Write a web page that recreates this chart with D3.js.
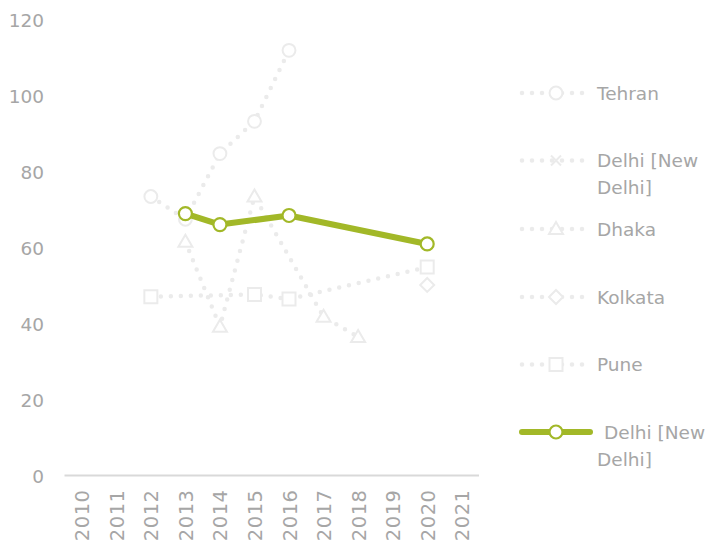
<!DOCTYPE html>
<html>
<head>
<meta charset="utf-8">
<script src="https://cdn.jsdelivr.net/npm/d3@7"></script>
<style>
  html, body { margin: 0; padding: 0; background: #fff; }
  svg { display: block; }
  text { font-family: "DejaVu Sans", sans-serif; fill: #a6a6a6; }
</style>
</head>
<body>
<svg id="chart" width="708" height="545"></svg>
<script>
// Years on the category axis
const years = [2010, 2011, 2012, 2013, 2014, 2015, 2016, 2017, 2018, 2019, 2020, 2021];

// Values per city (null = no reading that year)
const tehran  = [null, null, 73.5, 67.5, 84.8, 93.3, 112.0, null, null, null, null, null];
const delhi   = [null, null, null, 69.0, 66.1, null, 68.5, null, null, null, 61.0, null];
const dhaka   = [null, null, null, 61.6, 39.2, 73.5, null, 41.8, 36.5, null, null, null];
const kolkata = [null, null, null, null, null, null, null, null, null, null, 50.2, null];
const pune    = [null, null, 47.1, null, null, 47.7, 46.5, null, null, null, 54.9, null];

const yTicks = [0, 20, 40, 60, 80, 100, 120];

const seriesNames = ["Tehran", "Delhi [New Delhi]", "Dhaka", "Kolkata", "Pune", "Delhi [New Delhi]"];

const svg = d3.select("#chart");
const GHOST = "#ebebeb";
const GREEN = "#a2b828";
const FONT = "'DejaVu Sans', sans-serif";

const x = d3.scalePoint().domain(years).range([64.5, 479]).padding(0.5);
const y = d3.scaleLinear().domain([0, 120]).range([475.5, 20]);

// Y axis labels (no axis line)
const yAxis = d3.axisLeft(y).tickValues(yTicks).tickSize(0).tickPadding(0);
const gy = svg.append("g").attr("transform", "translate(44,0)").call(yAxis);
gy.select(".domain").remove();
gy.selectAll("text").attr("font-size", 18.5).style("fill", "#a6a6a6")
  .attr("font-family", FONT).attr("dy", "0.36em");

// X axis baseline and rotated year labels
const xAxis = d3.axisBottom(x).tickSize(0).tickPadding(0);
const gx = svg.append("g").attr("transform", "translate(0,475.5)").call(xAxis);
gx.select(".domain").attr("stroke", "#d9d9d9").attr("stroke-width", 2)
  .attr("d", "M64.5,0H479");
gx.selectAll("text")
  .attr("font-size", 19.5).style("fill", "#a6a6a6")
  .attr("font-family", FONT)
  .attr("letter-spacing", 0.5)
  .attr("text-anchor", "end")
  .attr("transform", "rotate(-90)")
  .attr("x", -14).attr("y", 0).attr("dy", "0.36em");

// Marker path generators, centred at 0,0
const markerPath = {
  circle: () => d3.symbol(d3.symbolCircle, 130)(),
  cross: () => "M-5,-5L5,5M5,-5L-5,5",
  triangle: () => "M0,-7L7,5L-7,5Z",
  diamond: () => "M0,-7L7,0L0,7L-7,0Z",
  square: () => "M-6.5,-6.5H6.5V6.5H-6.5Z"
};

const ghostSeries = [
  { name: "Tehran", values: tehran, marker: "circle" },
  { name: "Delhi [New Delhi]", values: delhi, marker: "cross" },
  { name: "Dhaka", values: dhaka, marker: "triangle" },
  { name: "Kolkata", values: kolkata, marker: "diamond" },
  { name: "Pune", values: pune, marker: "square" }
];

const line = d3.line().x(d => x(d.year)).y(d => y(d.value));
const pts = vals => years.map((yr, i) => ({ year: yr, value: vals[i] })).filter(d => d.value != null);

const plot = svg.append("g");

ghostSeries.forEach(s => {
  const p = pts(s.values);
  plot.append("path").datum(p).attr("d", line)
    .attr("fill", "none").attr("stroke", GHOST).attr("stroke-width", 4.5)
    .attr("stroke-linecap", "round").attr("stroke-dasharray", "0 10");
  plot.selectAll(null).data(p).enter().append("path")
    .attr("transform", d => `translate(${x(d.year)},${y(d.value)})`)
    .attr("d", markerPath[s.marker]())
    .attr("fill", s.marker === "cross" ? "none" : "#fff")
    .attr("stroke", GHOST).attr("stroke-width", 2);
});

// Highlighted Delhi series
const dp = pts(delhi);
plot.append("path").datum(dp).attr("d", line)
  .attr("fill", "none").attr("stroke", GREEN).attr("stroke-width", 6)
  .attr("stroke-linejoin", "round").attr("stroke-linecap", "round");
plot.selectAll(null).data(dp).enter().append("circle")
  .attr("cx", d => x(d.year)).attr("cy", d => y(d.value)).attr("r", 6.5)
  .attr("fill", "#fff").attr("stroke", GREEN).attr("stroke-width", 2.2);

// Legend
const legendY = [93, 160.5, 229, 297, 364.5, 432];
const leg = svg.append("g");
seriesNames.forEach((name, i) => {
  const g = leg.append("g").attr("transform", `translate(0,${legendY[i]})`);
  if (i < 5) {
    g.append("line").attr("x1", 522).attr("x2", 590).attr("y1", 0).attr("y2", 0)
      .attr("stroke", GHOST).attr("stroke-width", 4.5)
      .attr("stroke-linecap", "round").attr("stroke-dasharray", "0 10");
    g.append("path").attr("transform", "translate(556,0)")
      .attr("d", markerPath[ghostSeries[i].marker]())
      .attr("fill", ghostSeries[i].marker === "cross" ? "none" : "#fff")
      .attr("stroke", GHOST).attr("stroke-width", 2);
  } else {
    g.append("line").attr("x1", 522).attr("x2", 590).attr("y1", 0).attr("y2", 0)
      .attr("stroke", GREEN).attr("stroke-width", 6).attr("stroke-linecap", "round");
    g.append("circle").attr("cx", 556).attr("cy", 0).attr("r", 6.5)
      .attr("fill", "#fff").attr("stroke", GREEN).attr("stroke-width", 2.2);
  }
  const t = g.append("text").attr("x", 597).attr("y", 0).attr("font-size", 18.5).attr("dy", "0.36em");
  if (name === "Delhi [New Delhi]") {
    t.append("tspan").attr("x", i === 5 ? 604 : 597).text("Delhi [New");
    t.append("tspan").attr("x", 597).attr("dy", 27).text("Delhi]");
  } else {
    t.text(name);
  }
});
</script>
</body>
</html>
